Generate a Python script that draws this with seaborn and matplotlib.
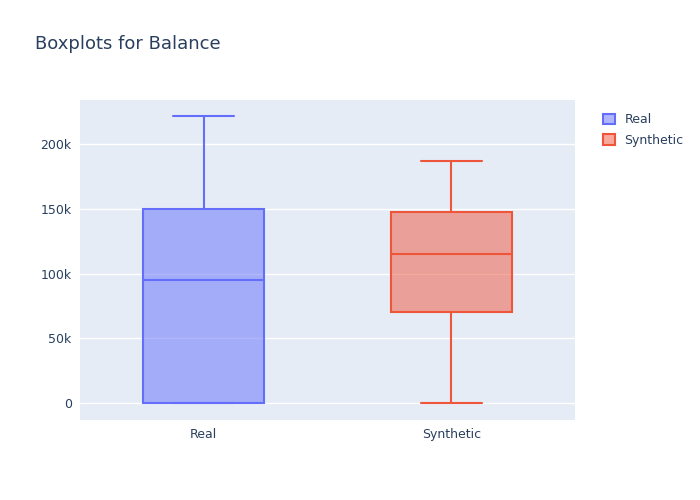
import pandas as pd
import matplotlib.pyplot as plt
import seaborn as sns
from matplotlib.patches import Patch

# Five-number summaries (min, q1, median, q3, max)
real_vals = [0, 0, 95000, 150000, 222000]
synth_vals = [0, 70000, 115000, 147500, 187000]
groups = ["Real", "Synthetic"]
colors = {"Real": "#636EFA", "Synthetic": "#EF553B"}

df = pd.DataFrame({
    "group": ["Real"] * len(real_vals) + ["Synthetic"] * len(synth_vals),
    "Balance": real_vals + synth_vals,
})

sns.set_theme(style="darkgrid", rc={
    "axes.facecolor": "#E5ECF6", "grid.color": "white", "grid.linewidth": 1.0,
})
plt.rcParams["font.family"] = ["DejaVu Sans"]

fig = plt.figure(figsize=(7, 5), dpi=100)
ax = fig.add_axes([80 / 700, 80 / 500, 495 / 700, 320 / 500])

for g in groups:
    c = colors[g]
    sns.boxplot(
        data=df[df["group"] == g], x="group", y="Balance", order=groups,
        width=0.49, ax=ax, whis=10, fliersize=0,
        boxprops=dict(facecolor=c + "80", edgecolor=c, linewidth=1.5),
        medianprops=dict(color=c, linewidth=1.5),
        whiskerprops=dict(color=c, linewidth=1.5),
        capprops=dict(color=c, linewidth=1.5),
        capwidths=0.245,
    )

ax.set_ylim(-13000, 234000)
ax.set_yticks([0, 50000, 100000, 150000, 200000])
ax.set_yticklabels(["0", "50k", "100k", "150k", "200k"])
ax.set_xlabel("")
ax.set_ylabel("")
ax.grid(axis="x", visible=False)
ax.tick_params(colors="#2a3f5f", labelsize=9, length=0, pad=6)
for s in ax.spines.values():
    s.set_visible(False)

fig.text(35 / 700, 1 - 44 / 500, "Boxplots for Balance", fontsize=13,
         color="#2a3f5f", va="center")

handles = [Patch(facecolor=colors[g] + "80", edgecolor=colors[g], linewidth=1.5, label=g)
           for g in groups]
fig.legend(handles=handles, loc="upper left", bbox_to_anchor=(592 / 700, 1 - 102 / 500),
           frameon=False, fontsize=9, labelcolor="#2a3f5f", handlelength=0.9,
           handleheight=0.9, labelspacing=0.6)

fig.savefig("out.png", dpi=100)
